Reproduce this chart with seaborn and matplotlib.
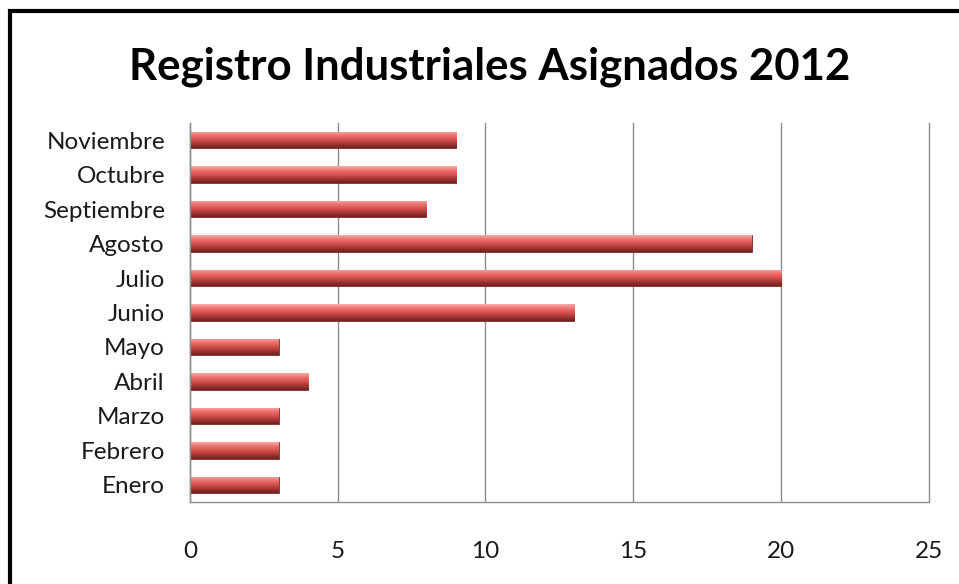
import numpy as np
import pandas as pd
import seaborn as sns
import matplotlib
matplotlib.use('Agg')
import matplotlib.pyplot as plt
from matplotlib.patches import Rectangle
from matplotlib.colors import LinearSegmentedColormap

meses = ["Noviembre", "Octubre", "Septiembre", "Agosto", "Julio", "Junio",
         "Mayo", "Abril", "Marzo", "Febrero", "Enero"]
registros = [9, 9, 8, 19, 20, 13, 3, 4, 3, 3, 3]
x_ticks = [0, 5, 10, 15, 20, 25]

df = pd.DataFrame({"Mes": meses, "Registros": registros})

sns.set_style("white")
plt.rcParams['font.family'] = ['Lato', 'DejaVu Sans']

fig = plt.figure(figsize=(9.59, 5.84), dpi=100)
ax = fig.add_axes([0.198, 0.1404, 0.7706, 0.649])

sns.barplot(data=df, x="Registros", y="Mes", order=meses, orient="h",
            color="#C0504D", width=0.48, errorbar=None, ax=ax)

# cylinder shading on each bar
shade = LinearSegmentedColormap.from_list(
    "cyl", ["#F7A9A6", "#EE716D", "#D4524E", "#A63633", "#6E2220"])
grad = np.linspace(0, 1, 64).reshape(-1, 1)
for p in ax.patches:
    x0, y0 = p.get_x(), p.get_y()
    w, h = p.get_width(), p.get_height()
    im = ax.imshow(grad, cmap=shade, aspect="auto", origin="upper",
                   extent=(x0, x0 + w, y0 + h, y0), zorder=p.get_zorder() + 0.1)
    im.set_clip_path(p)
    p.set_edgecolor("#7A2A28")
    p.set_linewidth(0.6)

ax.set_xlim(0, 25)
ax.set_ylim(len(meses) - 0.5, -0.5)
ax.set_xticks(x_ticks)
ax.set_xticklabels([str(t) for t in x_ticks])
ax.set_xlabel("")
ax.set_ylabel("")

ax.set_axisbelow(True)
ax.grid(axis="x", color="#8C8C8C", linewidth=1.0)
ax.grid(axis="y", visible=False)
for gl in ax.get_xgridlines():
    gl.set_clip_on(False)

for s in ["top", "right"]:
    ax.spines[s].set_visible(False)
for s in ["left", "bottom"]:
    ax.spines[s].set_color("#8C8C8C")
    ax.spines[s].set_linewidth(1.0)

ax.set_yticks(np.arange(-0.5, len(meses), 1.0), minor=True)
ax.tick_params(axis="y", which="major", length=0, pad=18, labelsize=17.5, colors="#1A1A1A")
ax.tick_params(axis="y", which="minor", length=6, width=1, color="#8C8C8C", direction="out")
ax.tick_params(axis="x", which="major", length=6, width=1, color="#8C8C8C", pad=22,
               labelsize=17.5, labelcolor="#1A1A1A", direction="out")

fig.text(0.5104, 0.885, "Registro Industriales Asignados 2012", ha="center", va="center",
         fontsize=31.5, fontweight="bold", color="black")

# thick black frame of the chart area, cut off at right/bottom
fig.patches.append(Rectangle((10 / 959, -0.05), 1.1, 1 - 11 / 584 + 0.05,
                             transform=fig.transFigure, fill=False,
                             edgecolor="black", linewidth=3.0, zorder=10))

fig.savefig("out.png", dpi=100, facecolor="white")
